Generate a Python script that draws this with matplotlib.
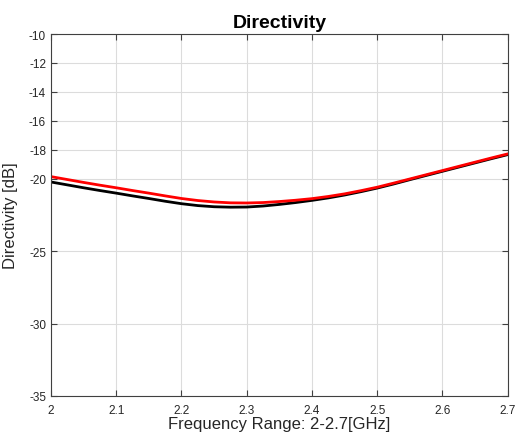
import matplotlib
matplotlib.use("Agg")
import matplotlib.pyplot as plt

freq = [2.000, 2.025, 2.050, 2.075, 2.100, 2.125, 2.150, 2.175, 2.200, 2.225,
        2.250, 2.275, 2.300, 2.325, 2.350, 2.375, 2.400, 2.425, 2.450, 2.475,
        2.500, 2.525, 2.550, 2.575, 2.600, 2.625, 2.650, 2.675, 2.700]
red_vals = [-19.85, -20.05, -20.25, -20.44, -20.62, -20.81, -20.99, -21.18, -21.36, -21.50,
            -21.60, -21.66, -21.67, -21.64, -21.57, -21.48, -21.37, -21.22, -21.04, -20.82,
            -20.58, -20.30, -20.01, -19.72, -19.43, -19.14, -18.85, -18.56, -18.28]
black_vals = [-20.22, -20.42, -20.62, -20.81, -20.99, -21.18, -21.36, -21.55, -21.72, -21.85,
              -21.93, -21.96, -21.95, -21.88, -21.77, -21.64, -21.49, -21.32, -21.12, -20.89,
              -20.64, -20.36, -20.06, -19.77, -19.48, -19.19, -18.90, -18.61, -18.33]
xticks = [2, 2.1, 2.2, 2.3, 2.4, 2.5, 2.6, 2.7]
xtick_labels = ["2", "2.1", "2.2", "2.3", "2.4", "2.5", "2.6", "2.7"]
yticks = [-35, -30, -25, -20, -18, -16, -14, -12, -10]
ytick_labels = ["-35", "-30", "-25", "-20", "-18", "-16", "-14", "-12", "-10"]

plt.rcParams['font.family'] = ['Liberation Sans', 'DejaVu Sans']

fig = plt.figure(figsize=(5.16, 4.35), dpi=100)
ax = fig.add_axes([0.0988, 0.0874, 0.8852, 0.8321])

ax.plot(freq, black_vals, color='black', lw=2.0, solid_joinstyle='round')
ax.plot(freq, red_vals, color='#ff0000', lw=2.0, solid_joinstyle='round')

ax.set_xlim(2, 2.7)
ax.set_ylim(-35, -10)
ax.set_xticks(xticks)
ax.set_xticklabels(xtick_labels)
ax.set_yticks(yticks)
ax.set_yticklabels(ytick_labels)
ax.grid(True, color='#dcdcdc', lw=0.8)
ax.set_axisbelow(True)
ax.tick_params(direction='in', top=True, right=True, length=4, width=0.8,
               colors='#404040', labelsize=8.5, labelcolor='#262626')
ax.tick_params(axis='x', pad=6)
for s in ax.spines.values():
    s.set_color('#404040')
    s.set_linewidth(0.8)

ax.set_title('Directivity', fontsize=14, fontweight='bold', pad=5)
ax.set_xlabel('Frequency Range: 2-2.7[GHz]', fontsize=12, color='#262626', labelpad=0)
ax.set_ylabel('Directivity [dB]', fontsize=12, color='#262626', labelpad=8)

fig.savefig('out.png', dpi=100)
